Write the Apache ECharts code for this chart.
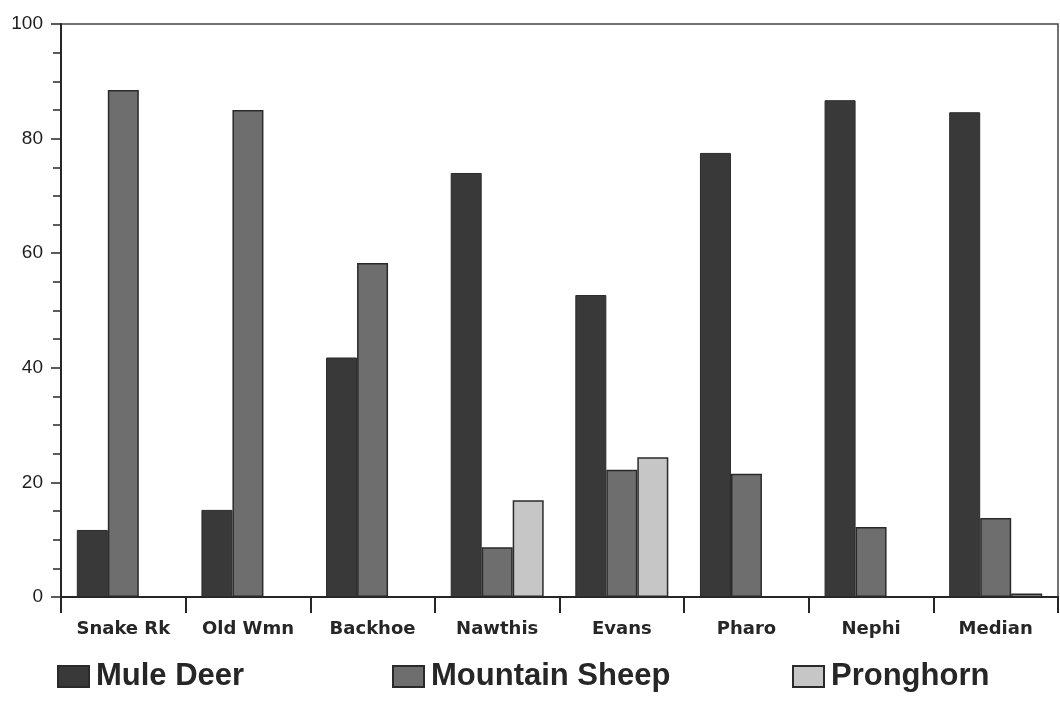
<!DOCTYPE html>
<html>
<head>
<meta charset="utf-8">
<script src="https://cdn.jsdelivr.net/npm/echarts@6/dist/echarts.min.js"></script>
<style>
  html, body { margin: 0; padding: 0; background: #ffffff; }
  #chart { width: 1060px; height: 707px; }
</style>
</head>
<body>
<div id="chart"></div>
<script>
// Sites and percentage of each animal group
const sites = ['Snake Rk', 'Old Wmn', 'Backhoe', 'Nawthis', 'Evans', 'Pharo', 'Nephi', 'Median'];
const muleDeer = [11.7, 15.2, 41.8, 74.0, 52.7, 77.5, 86.7, 84.6];
const mountainSheep = [88.5, 85.0, 58.3, 8.7, 22.2, 21.5, 12.2, 13.8];
const pronghorn = [null, null, null, 16.9, 24.4, null, null, 0.6];
const yTicks = [0, 20, 40, 60, 80, 100];

const INK = '#262626';
const chart = echarts.init(document.getElementById('chart'));

function legendAt(name, left) {
  return {
    data: [name],
    left: left,
    top: 661,
    padding: 0,
    itemWidth: 31,
    itemHeight: 21,
    itemGap: 0,
    icon: 'rect',
    textStyle: {
      fontFamily: 'Liberation Sans',
      fontWeight: 'bold',
      fontSize: 31,
      color: INK,
      padding: [0, 0, 0, 2]
    }
  };
}

chart.setOption({
  animation: false,
  backgroundColor: '#ffffff',
  grid: {
    left: 61, right: 2, top: 24, bottom: 110,
    show: true, borderColor: '#444', borderWidth: 1.5
  },
  legend: [
    legendAt('Mule Deer', 57),
    legendAt('Mountain Sheep', 392),
    legendAt('Pronghorn', 792)
  ],
  xAxis: {
    type: 'category',
    data: sites,
    axisLine: { show: true, lineStyle: { color: INK, width: 2 } },
    axisTick: { show: true, length: 16, lineStyle: { color: INK, width: 2 } },
    axisLabel: {
      margin: 23,
      fontFamily: 'DejaVu Sans',
      fontWeight: 'bold',
      fontSize: 18,
      color: INK
    }
  },
  yAxis: {
    type: 'value',
    min: yTicks[0],
    max: yTicks[yTicks.length - 1],
    interval: 20,
    axisLine: { show: true, lineStyle: { color: INK, width: 2 } },
    axisTick: { show: true, length: 10, lineStyle: { color: INK, width: 1.5 } },
    minorTick: { show: true, splitNumber: 4, length: 8, lineStyle: { color: INK, width: 1.5 } },
    splitLine: { show: false },
    axisLabel: {
      margin: 18,
      fontFamily: 'Liberation Sans',
      fontSize: 19,
      color: '#1e1e1e',
      formatter: v => (yTicks.includes(v) ? String(v) : '')
    }
  },
  series: [
    {
      name: 'Mule Deer', type: 'bar', data: muleDeer,
      barWidth: 31, barGap: '0%',
      itemStyle: { color: '#393939', borderColor: '#2a2a2a', borderWidth: 1 }
    },
    {
      name: 'Mountain Sheep', type: 'bar', data: mountainSheep,
      barWidth: 31, barGap: '0%',
      itemStyle: { color: '#6e6e6e', borderColor: '#2a2a2a', borderWidth: 1.5 }
    },
    {
      name: 'Pronghorn', type: 'bar', data: pronghorn,
      barWidth: 31, barGap: '0%',
      itemStyle: { color: '#c6c6c6', borderColor: '#2a2a2a', borderWidth: 1.5 }
    }
  ]
});
</script>
</body>
</html>
